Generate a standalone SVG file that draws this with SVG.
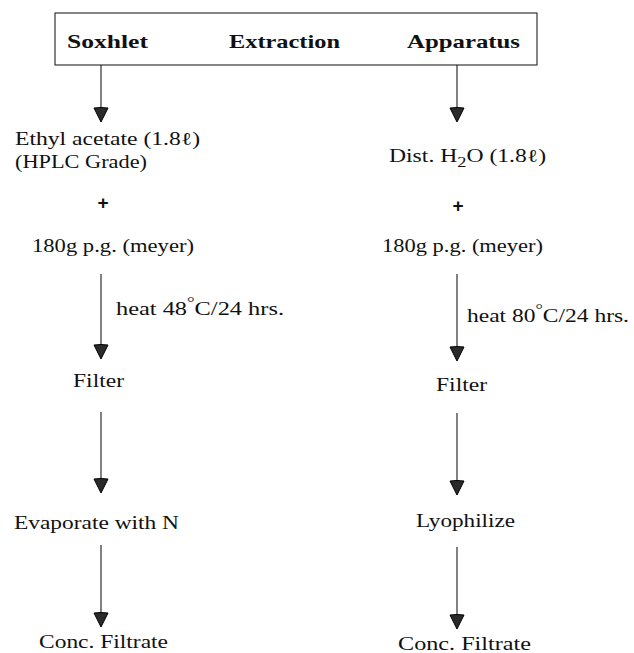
<svg xmlns="http://www.w3.org/2000/svg" width="634" height="653" viewBox="0 0 634 653">
<style>
text{font-family:"Liberation Serif","Times New Roman",serif;font-size:18px;fill:#111}
.t{font-weight:bold;font-size:19px}
.p{font-family:"Liberation Sans",Arial,sans-serif;font-weight:bold;font-size:19px}
.c{stroke:#1a1a1a;stroke-width:1.1;fill:none}
</style>
<defs>
<marker id="ah" markerUnits="userSpaceOnUse" markerWidth="18" markerHeight="18" refX="0" refY="0" viewBox="-1 -9 18 18" orient="auto">
<path d="M0,-7 Q-1,0 0,7 L14,0 Z" fill="#2a2a2a" stroke="#000" stroke-width="1"/>
</marker>
</defs>
<rect width="634" height="653" fill="#fff"/>
<g id="header">
<rect x="55" y="13" width="482" height="52" fill="none" stroke="#222" stroke-width="1.1"/>
<text class="t" x="67" y="48" textLength="81" lengthAdjust="spacingAndGlyphs">Soxhlet</text>
<text class="t" x="229" y="48" textLength="111" lengthAdjust="spacingAndGlyphs">Extraction</text>
<text class="t" x="407" y="48" textLength="113" lengthAdjust="spacingAndGlyphs">Apparatus</text>
</g>
<g id="connectors">
<line class="c" x1="101" y1="65" x2="101" y2="108" marker-end="url(#ah)"/>
<line class="c" x1="457" y1="65" x2="457" y2="108" marker-end="url(#ah)"/>
<line class="c" x1="101" y1="274" x2="101" y2="345" marker-end="url(#ah)"/>
<line class="c" x1="457" y1="274" x2="457" y2="347" marker-end="url(#ah)"/>
<line class="c" x1="101" y1="412" x2="101" y2="479" marker-end="url(#ah)"/>
<line class="c" x1="457" y1="413" x2="457" y2="481" marker-end="url(#ah)"/>
<line class="c" x1="101" y1="545" x2="101" y2="613" marker-end="url(#ah)"/>
<line class="c" x1="457" y1="547" x2="457" y2="615" marker-end="url(#ah)"/>
</g>
<g id="left-solvent">
<text x="15" y="145" textLength="185" lengthAdjust="spacingAndGlyphs">Ethyl acetate (1.8ℓ)</text>
<text x="15" y="168" textLength="132" lengthAdjust="spacingAndGlyphs">(HPLC Grade)</text>
</g>
<g id="left-plus"><text class="p" x="103" y="209" text-anchor="middle">+</text></g>
<g id="left-pg"><text x="32" y="252" textLength="162" lengthAdjust="spacingAndGlyphs">180g p.g. (meyer)</text></g>
<g id="left-heat"><text x="116" y="315" textLength="168" lengthAdjust="spacingAndGlyphs">heat 48<tspan dy="-8" font-size="14">°</tspan><tspan dy="8">C/24 hrs.</tspan></text></g>
<g id="left-filter"><text x="73" y="387" textLength="51" lengthAdjust="spacingAndGlyphs">Filter</text></g>
<g id="left-evap"><text x="14" y="529" textLength="165" lengthAdjust="spacingAndGlyphs">Evaporate with N</text></g>
<g id="left-conc"><text x="39" y="648" textLength="129" lengthAdjust="spacingAndGlyphs">Conc. Filtrate</text></g>
<g id="right-solvent"><text x="389" y="162" textLength="157" lengthAdjust="spacingAndGlyphs">Dist. H<tspan dy="5" font-size="14">2</tspan><tspan dy="-5">O (1.8ℓ)</tspan></text></g>
<g id="right-plus"><text class="p" x="458" y="212" text-anchor="middle">+</text></g>
<g id="right-pg"><text x="382" y="252" textLength="161" lengthAdjust="spacingAndGlyphs">180g p.g. (meyer)</text></g>
<g id="right-heat"><text x="467" y="322" textLength="162" lengthAdjust="spacingAndGlyphs">heat 80<tspan dy="-8" font-size="14">°</tspan><tspan dy="8">C/24 hrs.</tspan></text></g>
<g id="right-filter"><text x="436" y="391" textLength="51" lengthAdjust="spacingAndGlyphs">Filter</text></g>
<g id="right-lyo"><text x="416" y="527" textLength="99" lengthAdjust="spacingAndGlyphs">Lyophilize</text></g>
<g id="right-conc"><text x="398" y="650" textLength="133" lengthAdjust="spacingAndGlyphs">Conc. Filtrate</text></g>
</svg>
